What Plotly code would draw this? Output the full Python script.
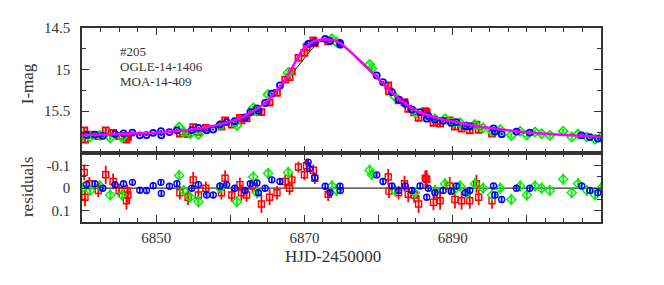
import plotly.graph_objects as go

# ---------------- data ----------------
# magenta model (best fit)
MODEL_T = [6840, 6842, 6844, 6846, 6848, 6850, 6852, 6854, 6856, 6858, 6860, 6861, 6862, 6863,
           6864, 6865, 6866, 6867, 6867.5, 6868, 6868.5, 6869, 6869.5, 6870, 6870.5, 6871, 6871.5,
           6872, 6873, 6874, 6875, 6876, 6877, 6878, 6879, 6880, 6881, 6882, 6883, 6884, 6885,
           6886, 6887, 6888, 6889, 6890, 6892, 6894, 6896, 6898, 6900, 6902, 6904, 6906, 6908, 6910]
MODEL_MAG = [15.79, 15.785, 15.78, 15.775, 15.77, 15.76, 15.745, 15.73, 15.705, 15.67, 15.625, 15.595,
             15.555, 15.505, 15.45, 15.375, 15.28, 15.175, 15.11, 15.03, 14.94, 14.86, 14.79, 14.74,
             14.70, 14.67, 14.65, 14.64, 14.635, 14.645, 14.69, 14.765, 14.85, 14.935, 15.02, 15.11,
             15.20, 15.29, 15.37, 15.435, 15.49, 15.53, 15.56, 15.585, 15.605, 15.625, 15.66, 15.69,
             15.715, 15.735, 15.755, 15.77, 15.78, 15.79, 15.80, 15.81]

# black model (single lens)
PSPL_T = [6840, 6842, 6844, 6846, 6848, 6850, 6852, 6854, 6856, 6858, 6860, 6861, 6862, 6863, 6864,
          6865, 6866, 6867, 6867.5, 6868, 6869, 6870, 6871, 6872, 6873, 6873.5, 6874, 6875, 6876,
          6877, 6878, 6879, 6880, 6881, 6882, 6883, 6884, 6885, 6886, 6887, 6888, 6889, 6890, 6892,
          6894, 6896, 6898, 6900, 6902, 6904, 6906, 6908, 6910]
PSPL_MAG = [15.80, 15.795, 15.79, 15.785, 15.78, 15.77, 15.755, 15.74, 15.715, 15.68, 15.635, 15.605,
            15.565, 15.515, 15.455, 15.38, 15.29, 15.19, 15.14, 15.09, 14.975, 14.86, 14.75, 14.67,
            14.64, 14.635, 14.645, 14.70, 14.775, 14.865, 14.955, 15.04, 15.13, 15.215, 15.30, 15.375,
            15.44, 15.495, 15.535, 15.565, 15.59, 15.61, 15.63, 15.665, 15.695, 15.72, 15.74, 15.755,
            15.77, 15.78, 15.79, 15.80, 15.81]

# red squares
RED_T = [6840.3, 6840.4, 6841.0, 6842.2, 6843.2, 6844.2, 6845.0, 6846.0, 6846.1, 6846.2, 6853.2,
         6854.3, 6855.0, 6855.7, 6856.7, 6858.8, 6859.3, 6860.2, 6861.3, 6861.5, 6862.2, 6863.0,
         6864.2, 6865.3, 6866.3, 6867.4, 6868.0, 6868.3, 6869.2, 6870.0, 6870.3, 6871.2, 6871.4,
         6873.2, 6881.3, 6881.4, 6882.7, 6883.5, 6884.0, 6884.8, 6885.4, 6886.3, 6886.5, 6887.4,
         6887.9, 6888.3, 6889.6, 6890.3, 6891.2, 6892.3, 6893.2, 6893.5, 6895.3]
RED_MAG = [15.73, 15.84, 15.78, 15.80, 15.73, 15.76, 15.80, 15.84, 15.80, 15.81, 15.77, 15.775,
           15.69, 15.75, 15.70, 15.685, 15.61, 15.66, 15.58, 15.61, 15.585, 15.505, 15.51, 15.395,
           15.28, 15.12, 15.09, 15.02, 14.86, 14.80, 14.73, 14.65, 14.68, 14.66, 15.19, 15.26, 15.37,
           15.39, 15.47, 15.515, 15.58, 15.50, 15.51, 15.64, 15.615, 15.65, 15.61, 15.685, 15.71,
           15.73, 15.66, 15.725, 15.77]
RED_RES = [-0.07, 0.04, -0.02, 0.01, -0.06, -0.03, 0.01, 0.056, 0.013, 0.03, 0.02, 0.04, -0.037,
           0.03, 0.0, 0.02, -0.044, 0.03, -0.016, 0.02, 0.03, -0.01, 0.07, 0.04, 0.02, -0.03, 0.0,
           -0.037, -0.094, -0.06, -0.10, -0.08, -0.044, 0.027, -0.05, 0.013, 0.02, -0.02, 0.027,
           0.03, 0.07, -0.044, -0.04, 0.063, 0.03, 0.056, -0.01, 0.05, 0.056, 0.056, -0.02, 0.04,
           0.056]
RED_ERR = [0.035, 0.04, 0.03, 0.03, 0.04, 0.035, 0.03, 0.04, 0.03, 0.035, 0.03, 0.035, 0.035,
           0.035, 0.03, 0.03, 0.035, 0.03, 0.03, 0.035, 0.03, 0.03, 0.04, 0.035, 0.03, 0.03, 0.03,
           0.03, 0.025, 0.025, 0.025, 0.025, 0.025, 0.03, 0.035, 0.03, 0.03, 0.035, 0.035, 0.035,
           0.04, 0.035, 0.04, 0.035, 0.035, 0.04, 0.04, 0.04, 0.04, 0.035, 0.04, 0.035, 0.035]

# green diamonds
GREEN_T = [6840.0, 6841.1, 6842.4, 6843.8, 6845.4, 6853.1, 6853.7, 6854.6, 6855.7, 6858.6, 6860.9,
           6863.1, 6863.6, 6865.1, 6867.8, 6873.7, 6874.35, 6878.8, 6879.1, 6882.2, 6884.9, 6887.6,
           6888.96, 6890.1, 6891.0, 6891.9, 6893.0, 6894.1, 6895.3, 6896.4, 6897.9, 6899.1, 6900.0,
           6901.1, 6902.0, 6903.1, 6904.9, 6906.05, 6906.9, 6908.1, 6909.2, 6910.0]
GREEN_MAG = [15.80, 15.81, 15.79, 15.82, 15.815, 15.69, 15.75, 15.77, 15.78, 15.67, 15.67, 15.46,
             15.50, 15.30, 15.04, 14.63, 14.67, 14.94, 14.99, 15.325, 15.51, 15.59, 15.59, 15.64,
             15.64, 15.68, 15.66, 15.70, 15.74, 15.72, 15.79, 15.74, 15.785, 15.75, 15.77, 15.79,
             15.74, 15.81, 15.775, 15.81, 15.835, 15.81]
GREEN_RES = [0.0, 0.01, -0.01, 0.03, 0.03, -0.056, 0.01, 0.04, 0.06, 0.0, 0.06, -0.05, 0.02, -0.066,
             -0.07, -0.01, 0.01, -0.08, -0.06, 0.01, 0.02, 0.01, -0.02, 0.01, -0.01, 0.02, -0.02, 0.0,
             0.03, 0.0, 0.05, -0.01, 0.03, -0.01, 0.0, 0.01, -0.04, 0.02, -0.02, 0.01, 0.03, 0.0]
GREEN_ERR = [0.025] * 42

# blue circles
BLUE_T = [6840.6, 6841.75, 6842.8, 6844.45, 6845.6, 6846.8, 6847.8, 6848.7, 6849.6, 6850.65, 6850.7,
          6851.8, 6852.8, 6854.8, 6855.7, 6856.8, 6857.7, 6858.6, 6859.5, 6860.6, 6862.0, 6862.7,
          6863.6, 6863.8, 6864.7, 6865.6, 6866.7, 6870.5, 6870.7, 6871.4, 6872.8, 6873.45, 6874.8,
          6874.85, 6879.75, 6880.6, 6881.8, 6882.7, 6883.6, 6884.5, 6885.6, 6886.5, 6886.7, 6887.6,
          6888.7, 6889.8, 6890.5, 6891.7, 6892.3, 6895.5, 6895.7, 6896.6, 6898.6, 6900.4, 6907.4,
          6908.5, 6909.6]
BLUE_MAG = [15.785, 15.78, 15.795, 15.775, 15.765, 15.757, 15.79, 15.787, 15.76, 15.74, 15.79, 15.75,
            15.73, 15.727, 15.70, 15.73, 15.72, 15.66, 15.63, 15.62, 15.575, 15.51, 15.465, 15.495,
            15.40, 15.29, 15.19, 14.69, 14.69, 14.67, 14.63, 14.655, 14.68, 14.70, 15.07, 15.15,
            15.27, 15.36, 15.41, 15.48, 15.51, 15.59, 15.555, 15.60, 15.615, 15.64, 15.63, 15.68,
            15.68, 15.705, 15.745, 15.776, 15.745, 15.757, 15.79, 15.81, 15.83]
BLUE_RES = [-0.016, -0.02, 0.0, -0.016, -0.02, -0.026, 0.009, 0.01, -0.011, -0.026, 0.023, -0.009,
            -0.02, 0.0, -0.016, 0.03, 0.03, -0.01, -0.015, 0.0, 0.01, -0.02, -0.023, 0.02, 0.0,
            -0.037, -0.03, -0.116, -0.087, -0.047, -0.009, 0.02, -0.009, 0.01, -0.059, -0.03, -0.01,
            0.01, -0.01, 0.01, -0.01, 0.04, 0.0, 0.02, 0.01, 0.013, -0.01, 0.02, 0.01, -0.01, 0.03,
            0.05, 0.0, 0.0, -0.01, 0.01, 0.02]
BLUE_ERR = [0.012] * 57

X_MAJOR = [6840, 6850, 6860, 6870, 6880, 6890, 6900, 6910]
X_LABELS = ["", "6850", "", "6870", "", "6890", "", ""]
Y_TICKS = [14.5, 15, 15.5, 16]
Y_LABELS = ["14.5", "15", "15.5", ""]
R_TICKS = [-0.1, 0, 0.1]
R_LABELS = ["-0.1", "0", "0.1"]
LABEL_LINES = ["#205", "OGLE-14-1406", "MOA-14-409"]

# ---------------- figure ----------------
FONT = "Liberation Serif, Times New Roman, serif"
INK = "#333333"

fig = go.Figure()

fig.add_trace(go.Scatter(x=PSPL_T, y=PSPL_MAG, mode="lines", line=dict(color="black", width=1),
                         xaxis="x", yaxis="y", hoverinfo="skip"))

series = [
    (RED_T, RED_MAG, RED_RES, RED_ERR, "#ff0000", "square-open", 6),
    (GREEN_T, GREEN_MAG, GREEN_RES, GREEN_ERR, "#00f000", "diamond-open", 7),
    (BLUE_T, BLUE_MAG, BLUE_RES, BLUE_ERR, "#0000ff", "circle-open", 6),
]
for t, m, r, e, col, sym, sz in series:
    fig.add_trace(go.Scatter(
        x=t, y=m, mode="markers", xaxis="x", yaxis="y",
        marker=dict(symbol=sym, size=sz, color=col, line=dict(color=col, width=1.8)),
        error_y=dict(type="data", array=e, color=col, thickness=2.2, width=0)))

fig.add_trace(go.Scatter(x=MODEL_T, y=MODEL_MAG, mode="lines", line=dict(color="#ff00ff", width=2.5),
                         xaxis="x", yaxis="y", hoverinfo="skip"))

for t, m, r, e, col, sym, sz in series:
    fig.add_trace(go.Scatter(
        x=t, y=r, mode="markers", xaxis="x2", yaxis="y2",
        marker=dict(symbol=sym, size=sz, color=col, line=dict(color=col, width=1.4)),
        error_y=dict(type="data", array=e, color=col, thickness=1.8, width=0)))

axis_common = dict(showline=True, linecolor=INK, linewidth=1.5, mirror="ticks", ticks="inside",
                   tickcolor=INK, tickwidth=1.2, showgrid=False, zeroline=False,
                   tickfont=dict(family=FONT, size=15, color=INK))

# the page body adds an 8 px offset, margins compensate for it
fig.update_layout(
    width=656, height=277,
    margin=dict(l=74, r=63, t=14, b=63),
    paper_bgcolor="white", plot_bgcolor="white",
    showlegend=False,
    font=dict(family=FONT, color=INK),
    xaxis=dict(axis_common, domain=[0, 1], anchor="y", range=[6840, 6910],
               tickmode="array", tickvals=X_MAJOR, ticktext=X_LABELS, showticklabels=False,
               ticklen=7, minor=dict(dtick=2.5, tick0=6840, ticklen=4, ticks="inside",
                                     tickcolor=INK, tickwidth=1)),
    yaxis=dict(axis_common, domain=[0.3565, 1], anchor="x", range=[16.0, 14.5],
               tickmode="array", tickvals=Y_TICKS, ticktext=Y_LABELS, ticklen=7,
               ticklabelstandoff=7,
               minor=dict(dtick=0.25, tick0=14.5, ticklen=4, ticks="inside",
                          tickcolor=INK, tickwidth=1)),
    xaxis2=dict(axis_common, domain=[0, 1], anchor="y2", range=[6840, 6910], matches="x",
                tickmode="array", tickvals=X_MAJOR, ticktext=X_LABELS, ticklen=7,
                ticklabelstandoff=1,
                minor=dict(dtick=2.5, tick0=6840, ticklen=4, ticks="inside",
                           tickcolor=INK, tickwidth=1)),
    yaxis2=dict(axis_common, domain=[0, 0.3565], anchor="x2", range=[0.15, -0.157],
                tickmode="array", tickvals=R_TICKS, ticktext=R_LABELS, ticklen=7,
                ticklabelstandoff=7,
                minor=dict(dtick=0.05, tick0=0, ticklen=4, ticks="inside",
                           tickcolor=INK, tickwidth=1)),
)

fig.add_shape(type="line", xref="x2 domain", yref="y2", x0=0, x1=1, y0=0, y1=0,
              line=dict(color=INK, width=1.2), layer="below")

label_y = [0.8765, 0.80, 0.7235]
for txt, yy in zip(LABEL_LINES, label_y):
    fig.add_annotation(text=txt, xref="paper", yref="paper", x=0.069, y=yy, xanchor="left",
                       yanchor="middle", showarrow=False, font=dict(family=FONT, size=13, color=INK))

fig.add_annotation(text="I-mag", xref="paper", yref="paper", x=0, y=0.71, xshift=-55,
                   textangle=-90, showarrow=False, xanchor="center", yanchor="middle",
                   font=dict(family=FONT, size=17, color=INK))
fig.add_annotation(text="residuals", xref="paper", yref="paper", x=0, y=0.18, xshift=-55,
                   textangle=-90, showarrow=False, xanchor="center", yanchor="middle",
                   font=dict(family=FONT, size=17, color=INK))
fig.add_annotation(text="HJD-2450000", xref="paper", yref="paper", x=0.4836, y=-0.18,
                   showarrow=False, xanchor="center", yanchor="middle",
                   font=dict(family=FONT, size=17, color=INK))

fig.write_html("out.html")
